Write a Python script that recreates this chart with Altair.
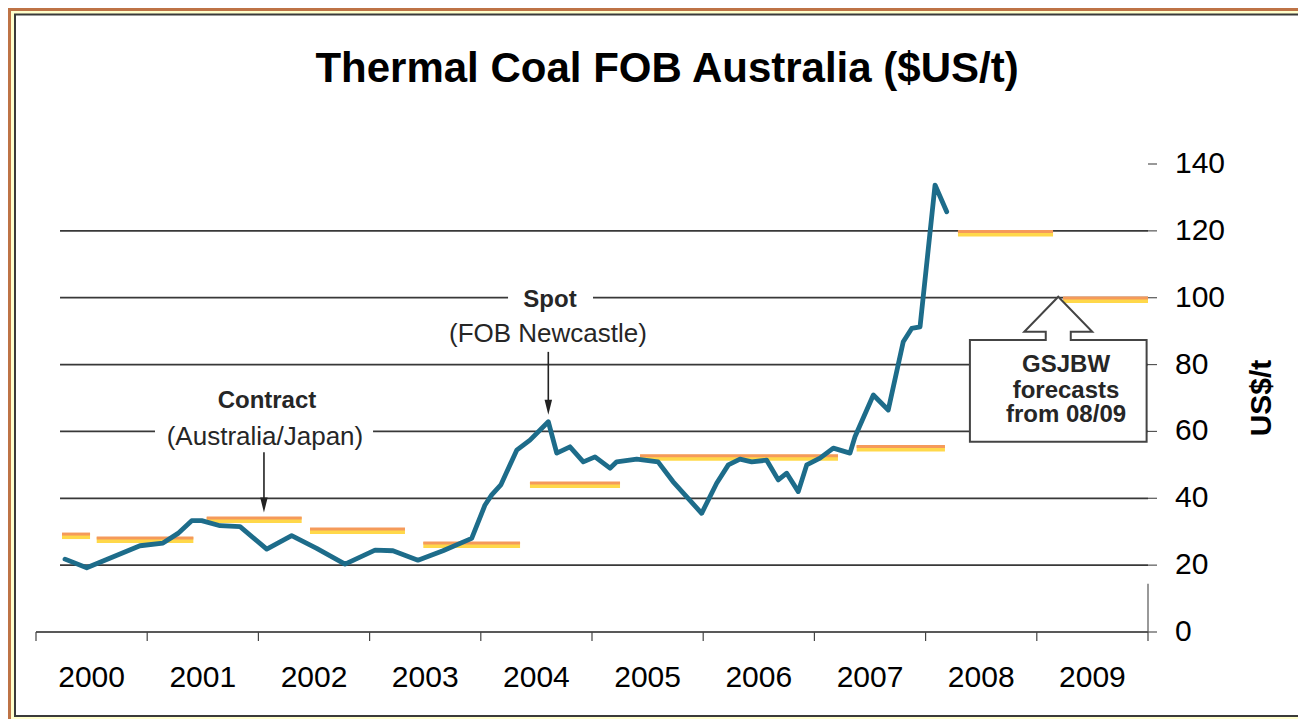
import altair as alt
import pandas as pd

# ---------------- data ----------------
title_text = "Thermal Coal FOB Australia ($US/t)"
y_title = "US$/t"

# Spot price (FOB Newcastle), US$/t
spot_year = [2000.261, 2000.456, 2000.935, 2001.142, 2001.277, 2001.400, 2001.490, 2001.655,
             2001.835, 2002.075, 2002.299, 2002.524, 2002.779, 2003.049, 2003.210, 2003.435,
             2003.660, 2003.918, 2004.038, 2004.098, 2004.180, 2004.323, 2004.442, 2004.607,
             2004.683, 2004.802, 2004.922, 2005.027, 2005.162, 2005.222, 2005.402, 2005.594,
             2005.728, 2005.986, 2006.121, 2006.226, 2006.331, 2006.436, 2006.571, 2006.675,
             2006.751, 2006.855, 2006.931, 2007.050, 2007.170, 2007.320, 2007.365, 2007.530,
             2007.664, 2007.799, 2007.875, 2007.950, 2008.085, 2008.190]
spot_value = [21.8, 19.2, 25.8, 26.6, 29.5, 33.3, 33.3, 31.8, 31.5, 24.8, 28.8, 25.0, 20.3,
              24.5, 24.3, 21.5, 24.3, 28.0, 38.0, 41.0, 44.0, 54.4, 57.4, 62.9, 53.5, 55.4,
              50.9, 52.4, 49.0, 50.9, 51.7, 50.9, 45.0, 35.5, 44.5, 50.0, 51.7, 50.9, 51.4,
              45.5, 47.5, 42.0, 50.0, 52.0, 55.0, 53.5, 58.4, 70.9, 66.4, 86.8, 90.8, 91.3,
              133.7, 125.7]

# Contract (Australia/Japan) and GSJBW forecast segments
contract_start = [2000.234, 2000.546, 2001.535, 2002.464, 2003.483, 2004.442, 2005.432, 2007.380,
                  2008.291, 2009.236]
contract_end = [2000.486, 2001.415, 2002.389, 2003.318, 2004.353, 2005.252, 2007.212, 2008.174,
                2009.146, 2010.0]
contract_value = [29.0, 27.8, 33.8, 30.5, 26.3, 44.3, 52.4, 55.2, 119.5, 99.6]

year_ticks = [2000, 2001, 2002, 2003, 2004, 2005, 2006, 2007, 2008, 2009, 2010]
year_labels = ["2000", "2001", "2002", "2003", "2004", "2005", "2006", "2007", "2008", "2009"]
y_ticks = [0, 20, 40, 60, 80, 100, 120, 140]
y_tick_labels = ["0", "20", "40", "60", "80", "100", "120", "140"]
grid_values = [20, 40, 60, 80, 100, 120]
grid_from = 2000.216
grid_to = 2010.0
x_min, x_max = 2000, 2010
right_axis_visible_to = 14.4

# annotations
ann_bold_text = ["Contract", "Spot", "GSJBW", "forecasts", "from 08/09"]
ann_bold_year = [2002.077, 2004.622, 2009.263, 2009.263, 2009.263]
ann_bold_value = [69.1, 99.3, 79.8, 72.2, 64.8]
ann_reg_text = ["(Australia/Japan)", "(FOB Newcastle)"]
ann_reg_year = [2002.059, 2004.604]
ann_reg_value = [58.3, 89.1]
# white patches that break the gridlines behind the annotation text
gap_x0 = [2001.070, 2004.245]
gap_x1 = [2003.031, 2005.009]
gap_y0 = [57.0, 97.0]
gap_y1 = [63.0, 103.0]
# arrows
arrow_year = [2002.050, 2004.607]
arrow_top = [53.8, 83.8]
arrow_tip = [38.5, 67.5]
arrow_head = [38.0, 67.2]
# callout box
callout_year = [2009.193]
callout_value = [78.6]

# ---------------- chart ----------------
W, H = 1112, 468
xs = alt.Scale(domain=[x_min, x_max], nice=False, zero=False)
ys = alt.Scale(domain=[0, 140], nice=False)
FONT = "Liberation Sans"

one = pd.DataFrame({"k": [0]})

brown_top = alt.Chart(one).mark_rect(color="#BE7346").encode(
    x=alt.value(-28), x2=alt.value(1400), y=alt.value(-156), y2=alt.value(-153))
brown_left = alt.Chart(one).mark_rect(color="#BE7346").encode(
    x=alt.value(-28), x2=alt.value(-25), y=alt.value(-156), y2=alt.value(700))
frame_outer = alt.Chart(one).mark_rect(color="#FFFFCC").encode(
    x=alt.value(-25), x2=alt.value(1400), y=alt.value(-153), y2=alt.value(700))
frame_inner = alt.Chart(one).mark_rect(fill="white", stroke="#3a3a3a", strokeWidth=2).encode(
    x=alt.value(-21), x2=alt.value(1400), y=alt.value(-149.5), y2=alt.value(552))

grid_df = pd.DataFrame({"x0": [grid_from] * len(grid_values), "x1": [grid_to] * len(grid_values),
                        "v": grid_values})
grid = alt.Chart(grid_df).mark_rule(color="#383838", strokeWidth=1.7).encode(
    x=alt.X("x0:Q", scale=xs, axis=None), x2="x1:Q",
    y=alt.Y("v:Q", scale=ys, axis=None))

gap_df = pd.DataFrame({"x0": gap_x0, "x1": gap_x1, "y0": gap_y0, "y1": gap_y1})
gaps = alt.Chart(gap_df).mark_rect(color="white").encode(
    x=alt.X("x0:Q", scale=xs, axis=None), x2="x1:Q",
    y=alt.Y("y0:Q", scale=ys, axis=None), y2="y1:Q")

# ---- axes drawn from the scales ----
xdom_df = pd.DataFrame({"x0": [x_min], "x1": [x_max], "y": [0]})
xdom = alt.Chart(xdom_df).mark_rule(color="#222222", strokeWidth=1.3).encode(
    x=alt.X("x0:Q", scale=xs, axis=None), x2="x1:Q",
    y=alt.Y("y:Q", scale=ys, axis=None))
xt_df = pd.DataFrame({"x": year_ticks})
xticks = alt.Chart(xt_df).mark_rule(color="#444444", strokeWidth=1.2).encode(
    x=alt.X("x:Q", scale=xs, axis=None), y=alt.value(H), y2=alt.value(H + 9))

rdom_df = pd.DataFrame({"x": [x_max], "y0": [0], "y1": [right_axis_visible_to]})
rdom = alt.Chart(rdom_df).mark_rule(color="#555555", strokeWidth=1.2).encode(
    x=alt.X("x:Q", scale=xs, axis=None),
    y=alt.Y("y0:Q", scale=ys, axis=None), y2="y1:Q")
yt_df = pd.DataFrame({"y": y_ticks, "t": y_tick_labels})
yticks = alt.Chart(yt_df).mark_rule(color="#555555", strokeWidth=1.2).encode(
    y=alt.Y("y:Q", scale=ys, axis=None), x=alt.value(W), x2=alt.value(W + 9))
ylabels = alt.Chart(yt_df).mark_text(font=FONT, fontSize=30, color="black", align="left",
                                     baseline="middle").encode(
    y=alt.Y("y:Q", scale=ys, axis=None), x=alt.value(W + 27), text="t:N")

con_df = pd.DataFrame({"x0": contract_start, "x1": contract_end, "v": contract_value})
con_yellow = alt.Chart(con_df).mark_rule(color="#FFD84A", strokeWidth=6, yOffset=1).encode(
    x=alt.X("x0:Q", scale=xs, axis=None), x2="x1:Q",
    y=alt.Y("v:Q", scale=ys, axis=None))
con_orange = alt.Chart(con_df).mark_rule(color="#F59A5A", strokeWidth=3, yOffset=-1).encode(
    x=alt.X("x0:Q", scale=xs, axis=None), x2="x1:Q",
    y=alt.Y("v:Q", scale=ys, axis=None))

spot_df = pd.DataFrame({"year": spot_year, "value": spot_value})
spot = alt.Chart(spot_df).mark_line(color="#1D6C8A", strokeWidth=4.8, strokeJoin="round",
                                    strokeCap="round").encode(
    x=alt.X("year:Q", scale=xs, axis=None),
    y=alt.Y("value:Q", scale=ys, axis=None))

arr_df = pd.DataFrame({"x": arrow_year, "top": arrow_top, "tip": arrow_tip, "head": arrow_head})
arr_line = alt.Chart(arr_df).mark_rule(color="#222222", strokeWidth=1.6).encode(
    x=alt.X("x:Q", scale=xs, axis=None),
    y=alt.Y("top:Q", scale=ys, axis=None), y2="tip:Q")
arr_head = alt.Chart(arr_df).mark_point(shape="M -0.5 -1 L 0.5 -1 L 0 1 Z", size=225, filled=True,
                                        color="#222222", opacity=1).encode(
    x=alt.X("x:Q", scale=xs, axis=None),
    y=alt.Y("head:Q", scale=ys, axis=None))

callout_path = ("M -0.8835 0.725 L -0.8835 -0.292 L -0.125 -0.292 L -0.125 -0.375 L -0.34 -0.375 "
                "L 0 -0.725 L 0.34 -0.375 L 0.125 -0.375 L 0.125 -0.292 L 0.8835 -0.292 "
                "L 0.8835 0.725 Z")
call_df = pd.DataFrame({"x": callout_year, "y": callout_value})
callout = alt.Chart(call_df).mark_point(shape=callout_path, size=40000, filled=True, fill="white",
                                        stroke="#444444", strokeWidth=2, opacity=1).encode(
    x=alt.X("x:Q", scale=xs, axis=None),
    y=alt.Y("y:Q", scale=ys, axis=None))

bold_df = pd.DataFrame({"t": ann_bold_text, "x": ann_bold_year, "y": ann_bold_value})
ann_bold = alt.Chart(bold_df).mark_text(font=FONT, fontSize=24, fontWeight="bold",
                                        color="#262626", baseline="middle").encode(
    x=alt.X("x:Q", scale=xs, axis=None),
    y=alt.Y("y:Q", scale=ys, axis=None), text="t:N")
reg_df = pd.DataFrame({"t": ann_reg_text, "x": ann_reg_year, "y": ann_reg_value})
ann_reg = alt.Chart(reg_df).mark_text(font=FONT, fontSize=26, color="#262626",
                                      baseline="middle").encode(
    x=alt.X("x:Q", scale=xs, axis=None),
    y=alt.Y("y:Q", scale=ys, axis=None), text="t:N")

yl_df = pd.DataFrame({"x": [y + 0.5 for y in year_ticks[:-1]], "t": year_labels})
year_text = alt.Chart(yl_df).mark_text(font=FONT, fontSize=30, color="black",
                                       baseline="middle").encode(
    x=alt.X("x:Q", scale=xs, axis=None), y=alt.value(514), text="t:N")

title = alt.Chart(one).mark_text(text=title_text, font=FONT, fontSize=42, fontWeight="bold",
                                 color="black", baseline="alphabetic").encode(
    x=alt.value(631), y=alt.value(-82))
ytitle = alt.Chart(one).mark_text(text=y_title, font=FONT, fontSize=30, fontWeight="bold",
                                  color="black", angle=270, baseline="middle").encode(
    x=alt.value(1226), y=alt.value(234))

chart = alt.layer(
    brown_top, brown_left, frame_outer, frame_inner, grid, gaps, xdom, xticks, rdom, yticks,
    ylabels, con_yellow, con_orange, spot, arr_line, arr_head, callout, ann_bold, ann_reg,
    year_text, title, ytitle
).properties(
    width=W, height=H,
    autosize=alt.AutoSizeParams(type="none"),
    padding={"left": 28, "top": 156, "right": 150, "bottom": 87},
    background="white",
).configure_view(stroke="transparent")

chart.save("out.html", embed_options={"renderer": "svg", "actions": False})
